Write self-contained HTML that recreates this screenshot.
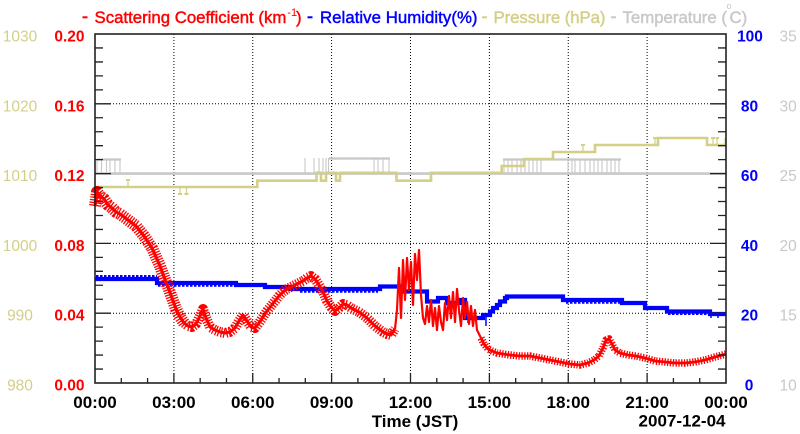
<!DOCTYPE html>
<html><head><meta charset="utf-8"><style>
html,body{margin:0;padding:0;background:#fff;}
svg{display:block;}
text{font-family:"Liberation Sans",Arial,sans-serif;}
</style></head><body>
<svg width="800" height="434" viewBox="0 0 800 434" xmlns="http://www.w3.org/2000/svg">
<rect width="800" height="434" fill="#fff"/>
<!-- legend -->
<g font-size="16.8" stroke-width="0.45">
<rect x="82.5" y="16.3" width="5" height="2" fill="#ff0000"/>
<text x="94.5" y="23" fill="#ff0000" stroke="#ff0000">Scattering Coefficient (km</text>
<text x="287.3" y="16" fill="#ff0000" font-size="11">-1</text>
<text x="296" y="23" fill="#ff0000" stroke="#ff0000">)</text>
<rect x="307.5" y="16.3" width="5" height="2" fill="#0000ff"/>
<text x="320" y="23" fill="#0000ff" stroke="#0000ff" textLength="157.5">Relative Humidity(%)</text>
<rect x="482" y="16.3" width="5" height="2" fill="#d4cf87"/>
<text x="493.5" y="23" fill="#d4cf87" stroke="#d4cf87" textLength="112">Pressure (hPa)</text>
<rect x="611" y="16.3" width="5" height="2" fill="#c8c8c8"/>
<text x="622.5" y="23" fill="#c8c8c8" stroke="#c8c8c8">Temperature (</text>
<text x="726.5" y="9" fill="#c8c8c8" font-size="9">o</text>
<text x="729.5" y="23" fill="#c8c8c8" stroke="#c8c8c8">C)</text>
</g>
<!-- grid -->
<g stroke="#000" stroke-width="1" stroke-dasharray="1 2" fill="none">
<path d="M173.9,34V383M252.75,34V383M331.6,34V383M410.5,34V383M489.4,34V383M568.25,34V383M647.1,34V383"/>
<path d="M95,103.8H726M95,173.6H726M95,243.4H726M95,313.2H726"/>
</g>
<!-- temperature (gray) -->
<g stroke="#c8c8c8" fill="none">
<path d="M95,173.6H726" stroke-width="2.6"/>
<path d="M97,159.5H121M329,158.5H390M503,159.5H621" stroke-width="2.2"/>
<path stroke-width="1.1" d="M97,159V173M101.5,159V173M106.5,159V173M110,159V173M115,159V173M120,159V173M305,158V173M314,158V173M319,158V173M323,158V173M326,158V173M328.5,158V173M374,158V173M378,158V173M383,158V173M389,158V173M504,159V173M508,159V173M512,159V173M517,159V173M521,159V173M525,159V173M529,159V173M533,159V173M537,159V173M541,159V173M568,159V173M572,159V173M575,159V173M580,159V173M585,159V173M590,159V173M594,159V173M598,159V173M602,159V173M607,159V173M611,159V173M615,159V173M619,159V173"/>
</g>
<!-- pressure (khaki) -->
<g stroke="#d4cf87" fill="none">
<path stroke-width="2.6" d="M95,187H257.3V180.7H316.5V172.8H321V180.7H326V172.8H336V180.7H340V172.8H396.5V180.7H431V172.8H501.7V166H524V159H553V152H595V145H658V138H707V145H726"/>
<path stroke-width="1.2" d="M128,187V180M180,187V194M186.5,187V194M583,152V145M655,145V138M713,145V138M717,145V138M725,145V138"/>
<path stroke-width="2" d="M178,194H182M184.5,194H188.5M126,180H130M581,145H585M653,138H657M711,138H715M715.5,138H719"/>
</g>
<!-- relative humidity (blue) -->
<path fill="none" stroke="#0000ff" stroke-width="4.2" d="M95,279H157V283H236V285H265V287H290V289H380V286.5H401.5V291.5H427V301.5H438V298H447V303H460V300H465V318H483V315H490V311.5H493V308H497V305H500V301.5H505V298H507V296.5H563V300H622V303H645V308H667V311.5H710V314H726"/>
<path fill="none" stroke="#0000ff" stroke-width="2.5" stroke-dasharray="2.5 1.5" d="M96,276.3H157M158,285.5H236M300,291.5H378M566,302.5H620M668,313.8H708"/>
<path fill="none" stroke="#0000ff" stroke-width="1.5" d="M468,318V323M476,318V322M486,315V326M711,314V318M718,314V318"/>
<!-- scattering (red) -->
<g fill="none" stroke="#ff0000" stroke-linejoin="round">
<polyline stroke-width="3.2" points="95,206 97,192 100,196 104,199 108,205 112,208 116,212 120,214 124,217 128,220 132,223 136,226 140,231 144,236 148,242 152,248 156,257 160,266 164,277 168,287 172,298 176,309 180,317 184,323"/>
<polyline stroke-width="12" stroke-dasharray="1.3 1.3" points="95,206 97,192 100,196 104,199 108,205 112,208 116,212 120,214 124,217 128,220 132,223 136,226 140,231 144,236 148,242 152,248 156,257 160,266 164,277 168,287 172,298 176,309 180,317 184,323"/>
<polyline stroke-width="3" points="184,323 188,326 192,327 196,324 200,316 203,309 206,318 210,327 215,330 220,332 225,333 230,332 235,328 239,321 243,315 247,321 251,327 255,328 259,323 263,317 267,311 271,306 275,301 279,296 283,292 287,289 291,287 295,285 299,283 303,281 307,278 311,276 315,279 319,285 323,292 327,301 331,307 335,311 339,308 343,304 347,305 351,308 355,310 359,312 363,315 367,318 371,322 375,326 379,329 383,332 387,334 391,335 395,329"/>
<polyline stroke-width="10" stroke-dasharray="1.3 1.4" points="184,323 188,326 192,327 196,324 200,316 203,309 206,318 210,327 215,330 220,332 225,333 230,332 235,328 239,321 243,315 247,321 251,327 255,328 259,323 263,317 267,311 271,306 275,301 279,296 283,292 287,289 291,287 295,285 299,283 303,281 307,278 311,276 315,279 319,285 323,292 327,301 331,307 335,311 339,308 343,304 347,305 351,308 355,310 359,312 363,315 367,318 371,322 375,326 379,329 383,332 387,334 391,335 395,329"/>
<polyline stroke-width="2.2" points="395,329 397,310 399,268 401,318 403,260 405,300 407,258 409,290 411,262 413,305 415,254 417,280 419,250 421,295 423,318 425,324 427,306 429,322 431,300 433,326 435,308 437,330 439,306 441,322 443,330 445,303 447,320 449,296 451,318 453,292 455,322 457,289 459,310 461,326 463,298 465,318 467,302 469,324 471,306 473,326 475,310 477,330 479,334 481,338"/>
<polyline stroke-width="2.8" points="481,338 484,344 488,349 492,351 497,353 503,354 510,355 520,356 530,356 540,358 550,360 560,362 570,364 580,365 588,363 594,360 599,356 603,348 606,340 609,339 612,344 615,350 620,353 628,355 636,356 645,358 655,361 665,362 675,363 685,363 695,362 705,360 715,357 726,354"/>
<polyline stroke-width="7.5" stroke-dasharray="1.3 1.5" points="481,338 484,344 488,349 492,351 497,353 503,354 510,355 520,356 530,356 540,358 550,360 560,362 570,364 580,365 588,363 594,360 599,356 603,348 606,340 609,339 612,344 615,350 620,353 628,355 636,356 645,358 655,361 665,362 675,363 685,363 695,362 705,360 715,357 726,354"/>
</g>
<!-- frame -->
<rect x="95" y="34" width="631" height="349" fill="none" stroke="#222" stroke-width="1.6"/>
<!-- ticks -->
<g stroke="#222" stroke-width="1.3" fill="none">
<path d="M121.29,383v-5M147.58,383v-5M200.17,383v-5M226.46,383v-5M279.04,383v-5M305.33,383v-5M357.92,383v-5M384.21,383v-5M436.79,383v-5M463.08,383v-5M515.67,383v-5M541.96,383v-5M594.54,383v-5M620.83,383v-5M673.42,383v-5M699.71,383v-5"/>
<path d="M173.9,383v-10M252.75,383v-10M331.6,383v-10M410.5,383v-10M489.4,383v-10M568.25,383v-10M647.1,383v-10"/>
<path d="M95,369.04h8M95,355.08h8M95,341.12h8M95,327.16h8M95,299.24h8M95,285.28h8M95,271.32h8M95,257.36h8M95,229.44h8M95,215.48h8M95,201.52h8M95,187.56h8M95,159.64h8M95,145.68h8M95,131.72h8M95,117.76h8M95,89.84h8M95,75.88h8M95,61.92h8M95,47.96h8"/>
<path d="M95,313.2h16M95,243.4h16M95,173.6h16M95,103.8h16"/>
<path d="M726,369.04h-8M726,355.08h-8M726,341.12h-8M726,327.16h-8M726,299.24h-8M726,285.28h-8M726,271.32h-8M726,257.36h-8M726,229.44h-8M726,215.48h-8M726,201.52h-8M726,187.56h-8M726,159.64h-8M726,145.68h-8M726,131.72h-8M726,117.76h-8M726,89.84h-8M726,75.88h-8M726,61.92h-8M726,47.96h-8"/>
<path d="M726,313.2h-16M726,243.4h-16M726,173.6h-16M726,103.8h-16"/>
</g>
<!-- left axis labels -->
<g font-size="15.5" fill="#d4cf87" text-anchor="middle">
<text x="20" y="41.5">1030</text>
<text x="20" y="111.3">1020</text>
<text x="20" y="181.1">1010</text>
<text x="20" y="250.9">1000</text>
<text x="20" y="320.7">990</text>
<text x="20" y="390.5">980</text>
</g>
<g font-size="15.5" font-weight="bold" fill="#ff0000" text-anchor="end">
<text x="84.5" y="41.5">0.20</text>
<text x="84.5" y="111.3">0.16</text>
<text x="84.5" y="181.1">0.12</text>
<text x="84.5" y="250.9">0.08</text>
<text x="84.5" y="320.7">0.04</text>
<text x="84.5" y="390.5">0.00</text>
</g>
<!-- right axis labels -->
<g font-size="15.5" font-weight="bold" fill="#0000ff" text-anchor="middle">
<text x="750" y="41.5">100</text>
<text x="749.5" y="111.3">80</text>
<text x="749.5" y="181.1">60</text>
<text x="749.5" y="250.9">40</text>
<text x="749.5" y="320.7">20</text>
<text x="749" y="390.5">0</text>
</g>
<g font-size="15.5" fill="#c8c8c8">
<text x="779.5" y="41.5">35</text>
<text x="779.5" y="111.3">30</text>
<text x="779.5" y="181.1">25</text>
<text x="779.5" y="250.9">20</text>
<text x="779.5" y="320.7">15</text>
<text x="779.5" y="390.5">10</text>
</g>
<!-- x axis labels -->
<g font-size="17" font-weight="bold" fill="#000" text-anchor="middle">
<text x="95" y="408">00:00</text>
<text x="173.9" y="408">03:00</text>
<text x="252.75" y="408">06:00</text>
<text x="331.6" y="408">09:00</text>
<text x="410.5" y="408">12:00</text>
<text x="489.4" y="408">15:00</text>
<text x="568.25" y="408">18:00</text>
<text x="647.1" y="408">21:00</text>
<text x="726" y="408">00:00</text>
<text x="415" y="427">Time (JST)</text>
</g>
<text x="725.5" y="426.5" font-size="17" font-weight="bold" text-anchor="end">2007-12-04</text>
</svg>
</body></html>
